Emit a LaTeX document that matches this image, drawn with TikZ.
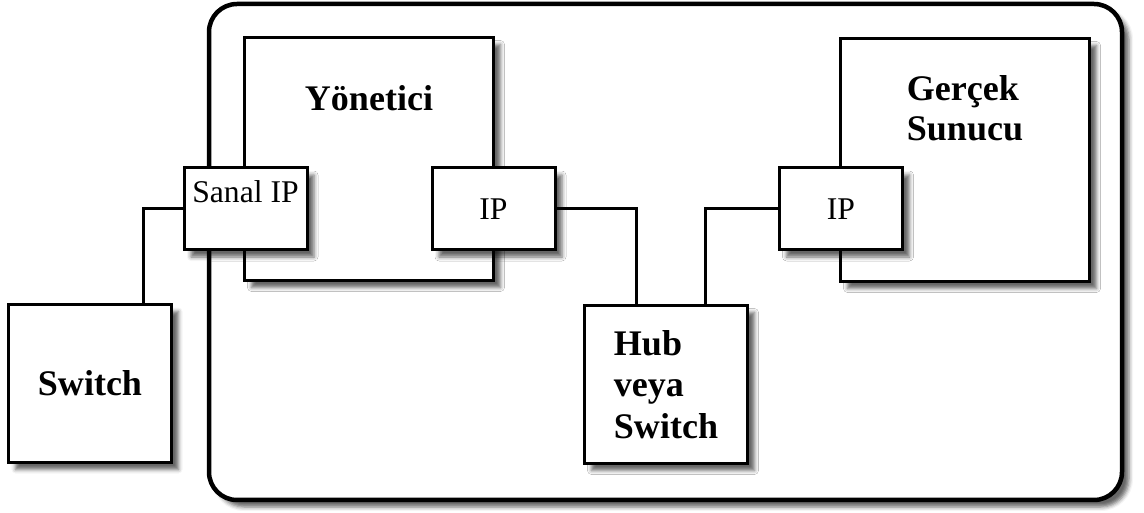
\documentclass[tikz,border=0pt]{standalone}
\usepackage{fontspec}
\setmainfont{Liberation Serif}
\usepackage{tikz}
\usetikzlibrary{positioning, calc, shadows.blur}
\newdimen\px
\px=0.02cm

\begin{document}
\begin{tikzpicture}[x=0.02cm, y=-0.02cm, every node/.style={font=\fontsize{18}{22}\selectfont}]
    \tikzstyle{shadowed} = [blur shadow={shadow xshift=7\px, shadow yshift=-7\px, shadow blur radius=4\px, shadow opacity=60}]
    \tikzstyle{hostbox} = [rectangle, draw=black, fill=white, line width=3\px, minimum width=249\px, minimum height=243\px, shadowed]
    \tikzstyle{ipbox} = [rectangle, draw=black, fill=white, line width=3\px, minimum width=123\px, minimum height=82\px, shadowed]
    \tikzstyle{netbox} = [rectangle, draw=black, fill=white, line width=3\px, minimum width=163\px, minimum height=158\px, align=left, font=\bfseries\fontsize{20.5}{23.8}\selectfont, shadowed]
    \tikzstyle{title} = [align=left, inner sep=0pt, font=\bfseries\fontsize{20.5}{22.7}\selectfont]
    \tikzstyle{wire} = [line width=3\px]

    \useasboundingbox (0,0) rectangle (1144,513);

    \node[rectangle, draw=black, fill=white, rounded corners=28\px, line width=4.5\px, minimum width=913\px, minimum height=496\px, shadowed] (lan) at (665.5,252) {};

    \node[hostbox] (yonetici) at (369,159) {};
    \node[title, anchor=base] (yonetici-t) at ($(yonetici.north)+(0,75)$) {Yönetici};
    \node[hostbox] (sunucu) at (965,160) {};
    \node[title] (sunucu-t) at ($(sunucu.north)+(0,71)$) {Gerçek\\Sunucu};

    \node[ipbox] (sanalip) at (245.5,209) {};
    \node[anchor=base] (sanalip-t) at ($(sanalip.center)+(0,-6)$) {Sanal IP};
    \node[ipbox] (ipyon) at (493.5,209) {IP};
    \node[ipbox] (ipsun) at (841,209) {IP};

    \node[netbox] (switch) at (90,383.5) {Switch};
    \node[netbox] (hub) at (666,384.5) {Hub\\veya\\Switch};

    \draw[wire] (sanalip.west) -| ($(switch.north)+(53,0)$);
    \draw[wire] (ipyon.east) -| ($(hub.north)+(-30,0)$);
    \draw[wire] (ipsun.west) -| ($(hub.north)+(39,0)$);
\end{tikzpicture}
\end{document}
